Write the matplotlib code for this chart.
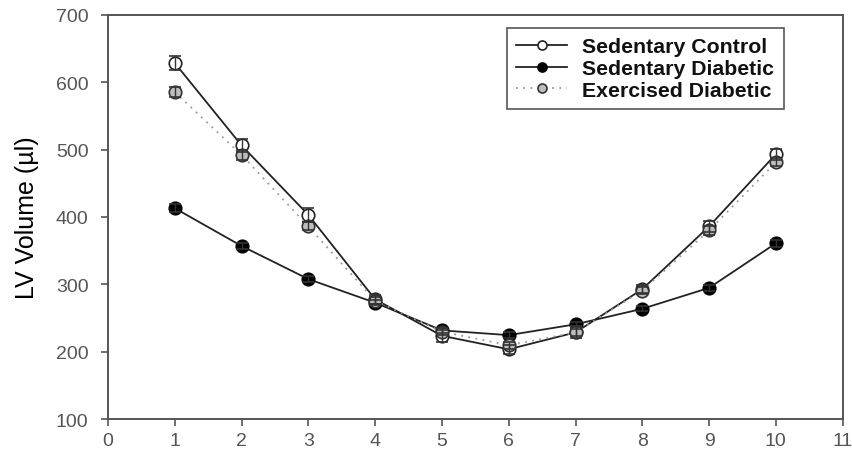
import numpy as np
import matplotlib
matplotlib.use("Agg")
import matplotlib.pyplot as plt
from matplotlib.lines import Line2D

plt.rcParams["font.family"] = ["Liberation Sans", "DejaVu Sans"]

# =========================
# DATA
# =========================
waktu = [1, 2, 3, 4, 5, 6, 7, 8, 9, 10]

control = [628, 506, 403, 278, 224, 204, 229, 293, 386, 493]
control_err = [10, 9, 10, 7, 9, 7, 9, 6, 8, 8]

sed_diab = [413, 357, 308, 273, 232, 225, 241, 264, 295, 361]
sed_diab_err = [6, 4, 4, 4, 4, 4, 4, 4, 4, 5]

ex_diab = [585, 492, 386, 276, 230, 210, 229, 291, 380, 481]
ex_diab_err = [7, 7, 6, 5, 5, 5, 5, 5, 6, 6]

labels = ["Sedentary Control", "Sedentary Diabetic", "Exercised Diabetic"]

x_ticks = list(range(0, 12))
y_ticks = [100, 200, 300, 400, 500, 600, 700]

# =========================
# STYLE PER SERIES
# =========================
gaya = [
    dict(color="#222222", ls="-", mfc="white", mec="#222222"),
    dict(color="#222222", ls="-", mfc="black", mec="black"),
    dict(color="#9a9a9a", ls=(0, (1, 3)), mfc="#bdbdbd", mec="#333333"),
]

# =========================
# PLOT
# =========================
fig = plt.figure(figsize=(8.52, 4.52), dpi=100)
ax = fig.add_axes([0.1268, 0.0697, 0.8622, 0.896])

ms = 9
cap = 4.5

data = [(control, control_err), (sed_diab, sed_diab_err), (ex_diab, ex_diab_err)]
urutan = [3, 2, 4]
for (y, err), g, z in zip(data, gaya, urutan):
    eb = ax.errorbar(waktu, y, yerr=err, color=g["color"], lw=1.3, ls=g["ls"],
                     marker="o", ms=ms, mfc=g["mfc"], mec=g["mec"], mew=1.2,
                     ecolor="#333333", elinewidth=1.0, capsize=cap,
                     capthick=1.0, zorder=z)
    # garis error bar di atas marker
    for c in eb[1]:
        c.set_zorder(5)
    for c in eb[2]:
        c.set_zorder(5)

ax.set_xlim(0, 11)
ax.set_ylim(100, 700)
ax.set_xticks(x_ticks)
ax.set_yticks(y_ticks)
ax.tick_params(direction="out", length=5, width=1.2, color="#555555",
               labelsize=14, labelcolor="#555555")
ax.tick_params(axis="y", pad=9)
ax.tick_params(axis="x", pad=4)

for s in ax.spines.values():
    s.set_color("#555555")
    s.set_linewidth(1.4)

ax.set_ylabel("LV Volume (\u00b5l)", fontsize=18, labelpad=12)

# legend tanpa error bar
handles = [Line2D([], [], color=g["color"], ls=g["ls"], lw=1.3, marker="o",
                  ms=6.5, mfc=g["mfc"], mec=g["mec"], mew=1.2) for g in gaya]
leg = ax.legend(handles, labels, loc="upper right",
                bbox_to_anchor=(0.92, 0.967), frameon=True, fancybox=False,
                framealpha=1, edgecolor="#555555", handlelength=2.4,
                handletextpad=0.7, borderpad=0.45, labelspacing=0.12,
                borderaxespad=0, prop={"weight": "bold", "size": 15.3})
leg.get_frame().set_linewidth(1.2)
for t in leg.get_texts():
    t.set_color("#111111")

plt.savefig("out.png", dpi=100)
